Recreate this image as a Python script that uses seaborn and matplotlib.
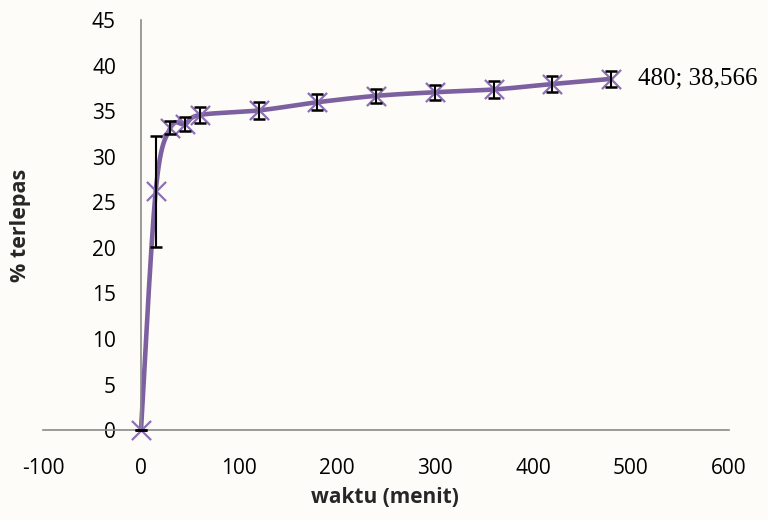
import numpy as np
import pandas as pd
import matplotlib
matplotlib.use("Agg")
import matplotlib.pyplot as plt
from matplotlib import font_manager
import seaborn as sns

# Release profile: time (minutes) vs. percent released, with SD
waktu = [0, 15, 30, 45, 60, 120, 180, 240, 300, 360, 420, 480]
terlepas = [0.0, 26.2, 33.2, 33.6, 34.6, 35.1, 36.0, 36.7, 37.1, 37.4, 38.0, 38.566]
sd = [0.0, 6.1, 0.7, 0.8, 0.9, 0.9, 0.9, 0.8, 0.8, 0.9, 0.9, 0.9]

x_ticks = [-100, 0, 100, 200, 300, 400, 500, 600]
y_ticks = [0, 5, 10, 15, 20, 25, 30, 35, 40, 45]

PURPLE = "#7D60A0"
MARK = "#8C70B4"
BG = "#FDFCF8"


def smooth_curve(xs, ys, n=40):
    """Bezier smoothing through every point (Catmull-Rom style control points)."""
    pts = np.column_stack([xs, ys]).astype(float)
    out = []
    for i in range(len(pts) - 1):
        p0 = pts[i - 1] if i > 0 else pts[i]
        p1, p2 = pts[i], pts[i + 1]
        p3 = pts[i + 2] if i + 2 < len(pts) else pts[i + 1]
        c1 = p1 + (p2 - p0) / 6.0
        c2 = p2 - (p3 - p1) / 6.0
        t = np.linspace(0, 1, n)[:, None]
        seg = ((1 - t) ** 3) * p1 + 3 * ((1 - t) ** 2) * t * c1 + 3 * (1 - t) * t ** 2 * c2 + t ** 3 * p2
        out.append(seg if i == 0 else seg[1:])
    return np.vstack(out)


df = pd.DataFrame({"waktu": waktu, "terlepas": terlepas, "sd": sd})
curve = smooth_curve(df["waktu"], df["terlepas"])
curve_df = pd.DataFrame({"waktu": curve[:, 0], "terlepas": curve[:, 1]})

sns.set_style("white")
plt.rcParams["font.family"] = ["Open Sans", "DejaVu Sans"]

# Times-like face for the data label
serif_names = {f.name for f in font_manager.fontManager.ttflist}
serif_face = next((n for n in ("Liberation Serif", "Times New Roman", "Nimbus Roman", "DejaVu Serif")
                   if n in serif_names), "serif")

fig = plt.figure(figsize=(7.68, 5.2), dpi=100, facecolor=BG)
ax = fig.add_axes([0.056, 0.173, 0.893, 0.788], facecolor=BG)

sns.lineplot(data=curve_df, x="waktu", y="terlepas", sort=False, estimator=None,
             color=PURPLE, linewidth=3.3, ax=ax, zorder=2)
sns.scatterplot(data=df, x="waktu", y="terlepas", marker="x", s=190,
                color=MARK, linewidth=1.6, ax=ax, zorder=3, clip_on=False)
ax.errorbar(df["waktu"], df["terlepas"], yerr=df["sd"], fmt="none",
            ecolor="black", elinewidth=1.5, capsize=4.5, capthick=1.8,
            zorder=4, clip_on=False)

# Data label for the last point
last_x, last_y = waktu[-1], terlepas[-1]
ax.annotate(f"{last_x}; {str(last_y).replace('.', ',')}", xy=(last_x, last_y),
            xytext=(19, 0), textcoords="offset points", va="center", ha="left",
            fontsize=18, family=serif_face, color="black")

ax.set_xlim(-100, 600)
ax.set_ylim(0, 45)
ax.set_xticks(x_ticks)
ax.set_yticks(y_ticks)
ax.set_xticklabels([str(v) for v in x_ticks])
ax.set_yticklabels([str(v) for v in y_ticks])

for side in ("top", "right"):
    ax.spines[side].set_visible(False)
ax.spines["left"].set_position(("data", 0))
ax.spines["bottom"].set_position(("data", 0))
for side in ("left", "bottom"):
    ax.spines[side].set_color("#8A8A8A")
    ax.spines[side].set_linewidth(1.2)

ax.tick_params(axis="y", length=0, pad=18, labelsize=15, colors="black")
ax.tick_params(axis="x", length=0, pad=20, labelsize=15, colors="black")

ax.set_xlabel("waktu (menit)", fontsize=15, fontweight="bold")
ax.set_ylabel("% terlepas", fontsize=15.5, fontweight="bold")
ax.xaxis.set_label_coords(0.4985, -0.14)
ax.yaxis.set_label_coords(-0.017, 0.5)

fig.savefig("out.png", dpi=100, facecolor=BG)
